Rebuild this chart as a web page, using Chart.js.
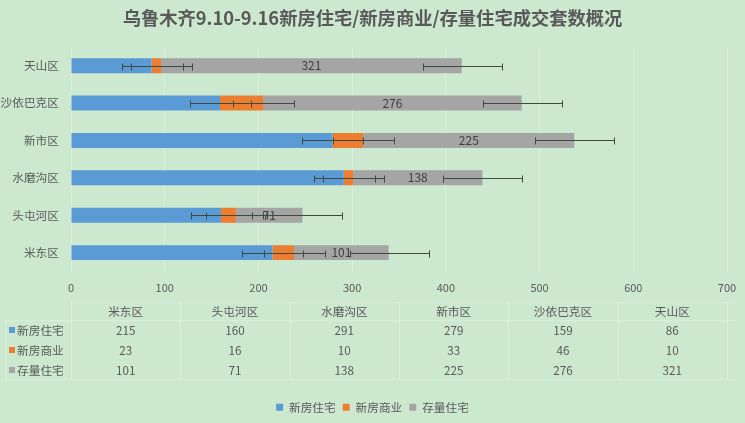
<!DOCTYPE html>
<html>
<head>
<meta charset="utf-8">
<script src="https://cdn.jsdelivr.net/npm/chart.js@4.4.0/dist/chart.umd.min.js"></script>
<style>
  html, body { margin: 0; padding: 0; background: #cce8cf; }
  #wrap { width: 745px; height: 423px; }
</style>
</head>
<body>
<div id="wrap"><canvas id="myChart"></canvas></div>
<script>
// 区域（数据表顺序，图中自下而上）
const categories = ['米东区', '头屯河区', '水磨沟区', '新市区', '沙依巴克区', '天山区']
const seriesNames = ['新房住宅', '新房商业', '存量住宅']
const newHome = [215, 160, 291, 279, 159, 86]
const newCommercial = [23, 16, 10, 33, 46, 10]
const stockHome = [101, 71, 138, 225, 276, 321]
// 误差线（每个系列一个固定值，从图上估读）
const errorAmounts = [33, 33, 42]
const xTicks = [0, 100, 200, 300, 400, 500, 600, 700]

const colors = ['#5b9bd5', '#ed7d31', '#a5a5a5']
const textColor = '#595959'
const font = '"Noto Sans CJK SC", "Noto Sans", sans-serif'
const bg = '#cce8cf'

const seriesValues = [newHome, newCommercial, stockHome]

// 背景
const bgPlugin = {
  id: 'bg',
  beforeDraw(chart) {
    const c = chart.ctx
    c.save()
    c.fillStyle = bg
    c.fillRect(0, 0, chart.width, chart.height)
    c.restore()
  }
}

// 存量住宅标签 + 误差线
const overlayPlugin = {
  id: 'overlay',
  afterDatasetsDraw(chart) {
    const c = chart.ctx
    const x = chart.scales.x
    c.save()
    // 标签
    const meta2 = chart.getDatasetMeta(2)
    c.font = '12px ' + font
    c.fillStyle = '#404040'
    c.textAlign = 'center'
    c.textBaseline = 'middle'
    meta2.data.forEach((bar, i) => {
      c.fillText(String(stockHome[i]), (bar.x + bar.base) / 2, bar.y)
    })
    // 误差线
    c.strokeStyle = '#3d4a3f'
    c.lineWidth = 1
    chart.data.datasets.forEach((ds, di) => {
      const meta = chart.getDatasetMeta(di)
      const errPx = x.getPixelForValue(errorAmounts[di]) - x.getPixelForValue(0)
      meta.data.forEach((bar) => {
        const cx = Math.round(bar.x) + 0.5
        const y = Math.round(bar.y) + 0.5
        const l = Math.round(cx - errPx) + 0.5
        const r = Math.round(cx + errPx) + 0.5
        c.beginPath()
        c.moveTo(l, y); c.lineTo(r, y)
        c.moveTo(l, y - 3); c.lineTo(l, y + 4)
        c.moveTo(r, y - 3); c.lineTo(r, y + 4)
        c.stroke()
      })
    })
    c.restore()
  }
}

// 数据表
const tablePlugin = {
  id: 'dataTable',
  afterDraw(chart) {
    const c = chart.ctx
    const area = chart.chartArea
    const left = area.left, right = area.right
    const colW = (right - left) / categories.length
    const top = area.bottom + 31
    const headY = top + 9
    const rowYs = [top + 28, top + 48, top + 68]
    const bottom = top + 77
    c.save()
    // 表格线
    c.strokeStyle = 'rgba(255,255,255,0.3)'
    c.lineWidth = 1
    c.beginPath()
    c.moveTo(left, top + 0.5); c.lineTo(right + 10, top + 0.5)
    c.moveTo(5, top + 18.5); c.lineTo(right + 10, top + 18.5)
    c.moveTo(5, bottom + 0.5); c.lineTo(right + 10, bottom + 0.5)
    for (let k = 0; k <= categories.length; k++) {
      const lx = Math.round(left + k * colW) + 0.5
      c.moveTo(lx, top); c.lineTo(lx, bottom)
    }
    c.moveTo(5.5, top + 18); c.lineTo(5.5, bottom)
    c.stroke()

    c.font = '11.7px ' + font
    c.fillStyle = textColor
    c.textAlign = 'center'
    c.textBaseline = 'middle'
    categories.forEach((cat, i) => {
      c.fillText(cat, left + colW * (i + 0.5), headY)
    })
    seriesNames.forEach((name, s) => {
      const y = rowYs[s]
      c.fillStyle = colors[s]
      c.fillRect(9, Math.round(y) - 3, 6, 6)
      c.fillStyle = textColor
      c.textAlign = 'left'
      c.fillText(name, 17, y)
      c.textAlign = 'center'
      seriesValues[s].forEach((v, i) => {
        c.fillText(String(v), left + colW * (i + 0.5), y)
      })
    })
    c.restore()
  }
}

const ctx = document.getElementById('myChart').getContext('2d')
const myChart = new Chart(ctx, {
  type: 'bar',
  data: {
    labels: categories,
    datasets: seriesNames.map((name, s) => ({
      label: name,
      data: seriesValues[s],
      backgroundColor: colors[s],
      borderWidth: 0,
      barPercentage: 0.4,
      categoryPercentage: 1
    }))
  },
  options: {
    indexAxis: 'y',
    responsive: true,
    maintainAspectRatio: false,
    animation: false,
    layout: { padding: { left: 0, right: 0, top: 0, bottom: 0 } },
    scales: {
      x: {
        stacked: true,
        min: 0,
        max: 700,
        afterBuildTicks: (axis) => { axis.ticks = xTicks.map(v => ({ value: v })) },
        afterFit: (axis) => { axis.height = 123; axis.paddingRight = 18 },
        ticks: { color: textColor, font: { family: font, size: 11 }, padding: 10 },
        grid: { color: 'rgba(255,255,255,0.3)', drawTicks: false },
        border: { display: false }
      },
      y: {
        stacked: true,
        reverse: true,
        afterFit: (axis) => { axis.width = 71 },
        ticks: { color: textColor, font: { family: font, size: 11.7 }, padding: 12 },
        grid: { display: false, drawTicks: false },
        border: { display: false }
      }
    },
    plugins: {
      title: {
        display: true,
        text: '乌鲁木齐9.10-9.16新房住宅/新房商业/存量住宅成交套数概况',
        color: textColor,
        font: { family: font, size: 18.3, weight: 'bold' },
        padding: { top: 7, bottom: 18 }
      },
      legend: {
        position: 'bottom',
        labels: {
          color: textColor,
          font: { family: font, size: 11.7 },
          boxWidth: 7,
          boxHeight: 7,
          padding: 7
        }
      },
      tooltip: { enabled: false }
    }
  },
  plugins: [bgPlugin, overlayPlugin, tablePlugin]
})
</script>
</body>
</html>
